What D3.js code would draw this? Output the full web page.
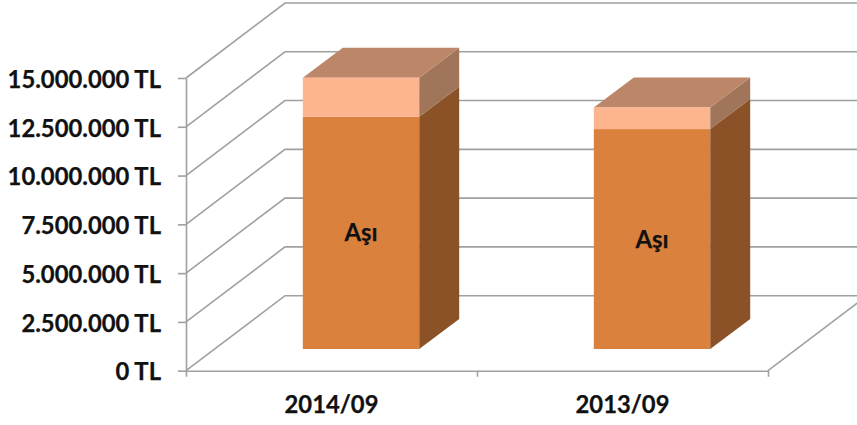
<!DOCTYPE html>
<html>
<head>
<meta charset="utf-8">
<script src="https://cdn.jsdelivr.net/npm/d3@7"></script>
<style>
  html, body { margin: 0; padding: 0; background: #fff; }
  svg { display: block; }
  text { font-family: Lato, "Noto Sans", sans-serif; font-weight: 700; fill: #111; stroke: #111; stroke-width: 0.25px; }
</style>
</head>
<body>
<div id="chart-area"></div>
<script>
// chart values
var categories = ["2014/09", "2013/09"];
var asiValues = [11900000, 11270000];
var topValues = [2000000, 1110000];
var seriesLabels = ["Aşı", "Aşı"];
var yTicks = [0, 2500000, 5000000, 7500000, 10000000, 12500000, 15000000];

var width = 857, height = 425;

// plot frame and the fake 3d depth
var left = 186, right = 768, bottom = 370.7, top15 = 78;
var wall = { dx: 99, dy: -75 };
var gap = { dx: 29.5, dy: -21.7 };
var depth = { dx: 40, dy: -30 };
var fontSize = "23.8px";

var colors = {
    grid: "#a0a0a0",
    front: "#da813d", side: "#8a5226",
    topFront: "#fdb58f", topSide: "#a0755a", lid: "#bc8769"
};

var svg = d3.select("#chart-area")
    .append("svg")
        .attr("width", width)
        .attr("height", height);

var x = d3.scaleBand()
    .domain(categories)
    .range([left, right])
    .paddingInner(0.6)
    .paddingOuter(0.3);

var y = d3.scaleLinear()
    .domain([0, 15000000])
    .range([bottom, top15]);

var trFormat = d3.formatLocale({ decimal: ",", thousands: ".", grouping: [3], currency: ["", " TL"] }).format("$,.0f");

// walls: diagonal on the left side, then the line along the back
var grid = svg.append("g")
    .attr("fill", "none")
    .attr("stroke", colors.grid)
    .attr("stroke-width", 1.6);

grid.selectAll("polyline")
    .data(yTicks)
    .enter()
    .append("polyline")
        .attr("points", d => [
            [left, y(d)],
            [left + wall.dx, y(d) + wall.dy],
            [right + wall.dx, y(d) + wall.dy]
        ].join(" "));

// right edge of the floor
grid.append("line")
    .attr("x1", right)
    .attr("y1", y(0))
    .attr("x2", right + wall.dx)
    .attr("y2", y(0) + wall.dy);

var yAxisCall = d3.axisLeft(y)
    .tickValues(yTicks)
    .tickSizeInner(8)
    .tickSizeOuter(0)
    .tickPadding(17)
    .tickFormat(trFormat);

var yAxis = svg.append("g")
    .attr("transform", "translate(" + left + ",0)")
    .call(yAxisCall);

var xTickScale = d3.scalePoint()
    .domain(d3.range(categories.length + 1))
    .range([left, right]);

var xAxisCall = d3.axisBottom(xTickScale)
    .tickSizeInner(6)
    .tickSizeOuter(0)
    .tickFormat("");

var xAxis = svg.append("g")
    .attr("transform", "translate(0," + bottom + ")")
    .call(xAxisCall);

svg.selectAll(".domain, .tick line")
    .attr("stroke", colors.grid)
    .attr("stroke-width", 1.6);

yAxis.selectAll("text")
    .style("font-size", fontSize)
    .attr("dy", "0.39em");

// category labels sit under the band, not under the shifted bar
svg.selectAll(".cat")
    .data(categories)
    .enter()
    .append("text")
        .attr("class", "cat")
        .attr("x", d => x(d) + x.bandwidth() / 2)
        .attr("y", 413)
        .attr("text-anchor", "middle")
        .style("font-size", fontSize)
        .text(d => d);

// one stacked 3d bar per category
function quad(x0, x1, y0, y1, dx0, dy0, dx1, dy1) {
    return [[x0 + dx0, y0 + dy0], [x1 + dx0, y0 + dy0], [x1 + dx1, y1 + dy1], [x0 + dx1, y1 + dy1]].join(" ");
}

categories.forEach((c, i) => {
    var x0 = x(c) + gap.dx;
    var x1 = x0 + x.bandwidth();
    var base = y(0) + gap.dy;
    var h1 = y(0) - y(asiValues[i]);
    var h2 = y(0) - y(asiValues[i] + topValues[i]);
    var g = svg.append("g");

    // side faces
    g.append("polygon").attr("fill", colors.side)
        .attr("points", [[x1, base], [x1 + depth.dx, base + depth.dy], [x1 + depth.dx, base - h1 + depth.dy], [x1, base - h1]].join(" "));
    g.append("polygon").attr("fill", colors.topSide)
        .attr("points", [[x1, base - h1], [x1 + depth.dx, base - h1 + depth.dy], [x1 + depth.dx, base - h2 + depth.dy], [x1, base - h2]].join(" "));
    // lid
    g.append("polygon").attr("fill", colors.lid)
        .attr("points", quad(x0, x1, base - h2, base - h2, 0, 0, depth.dx, depth.dy));
    // front faces
    g.append("rect").attr("fill", colors.front)
        .attr("x", x0).attr("y", base - h1)
        .attr("width", x.bandwidth()).attr("height", h1);
    g.append("rect").attr("fill", colors.topFront)
        .attr("x", x0).attr("y", base - h2)
        .attr("width", x.bandwidth()).attr("height", h2 - h1);

    g.append("text")
        .attr("x", (x0 + x1) / 2)
        .attr("y", base - h1 / 2)
        .attr("dy", "0.36em")
        .attr("text-anchor", "middle")
        .style("font-size", fontSize)
        .text(seriesLabels[i]);
});
</script>
</body>
</html>
